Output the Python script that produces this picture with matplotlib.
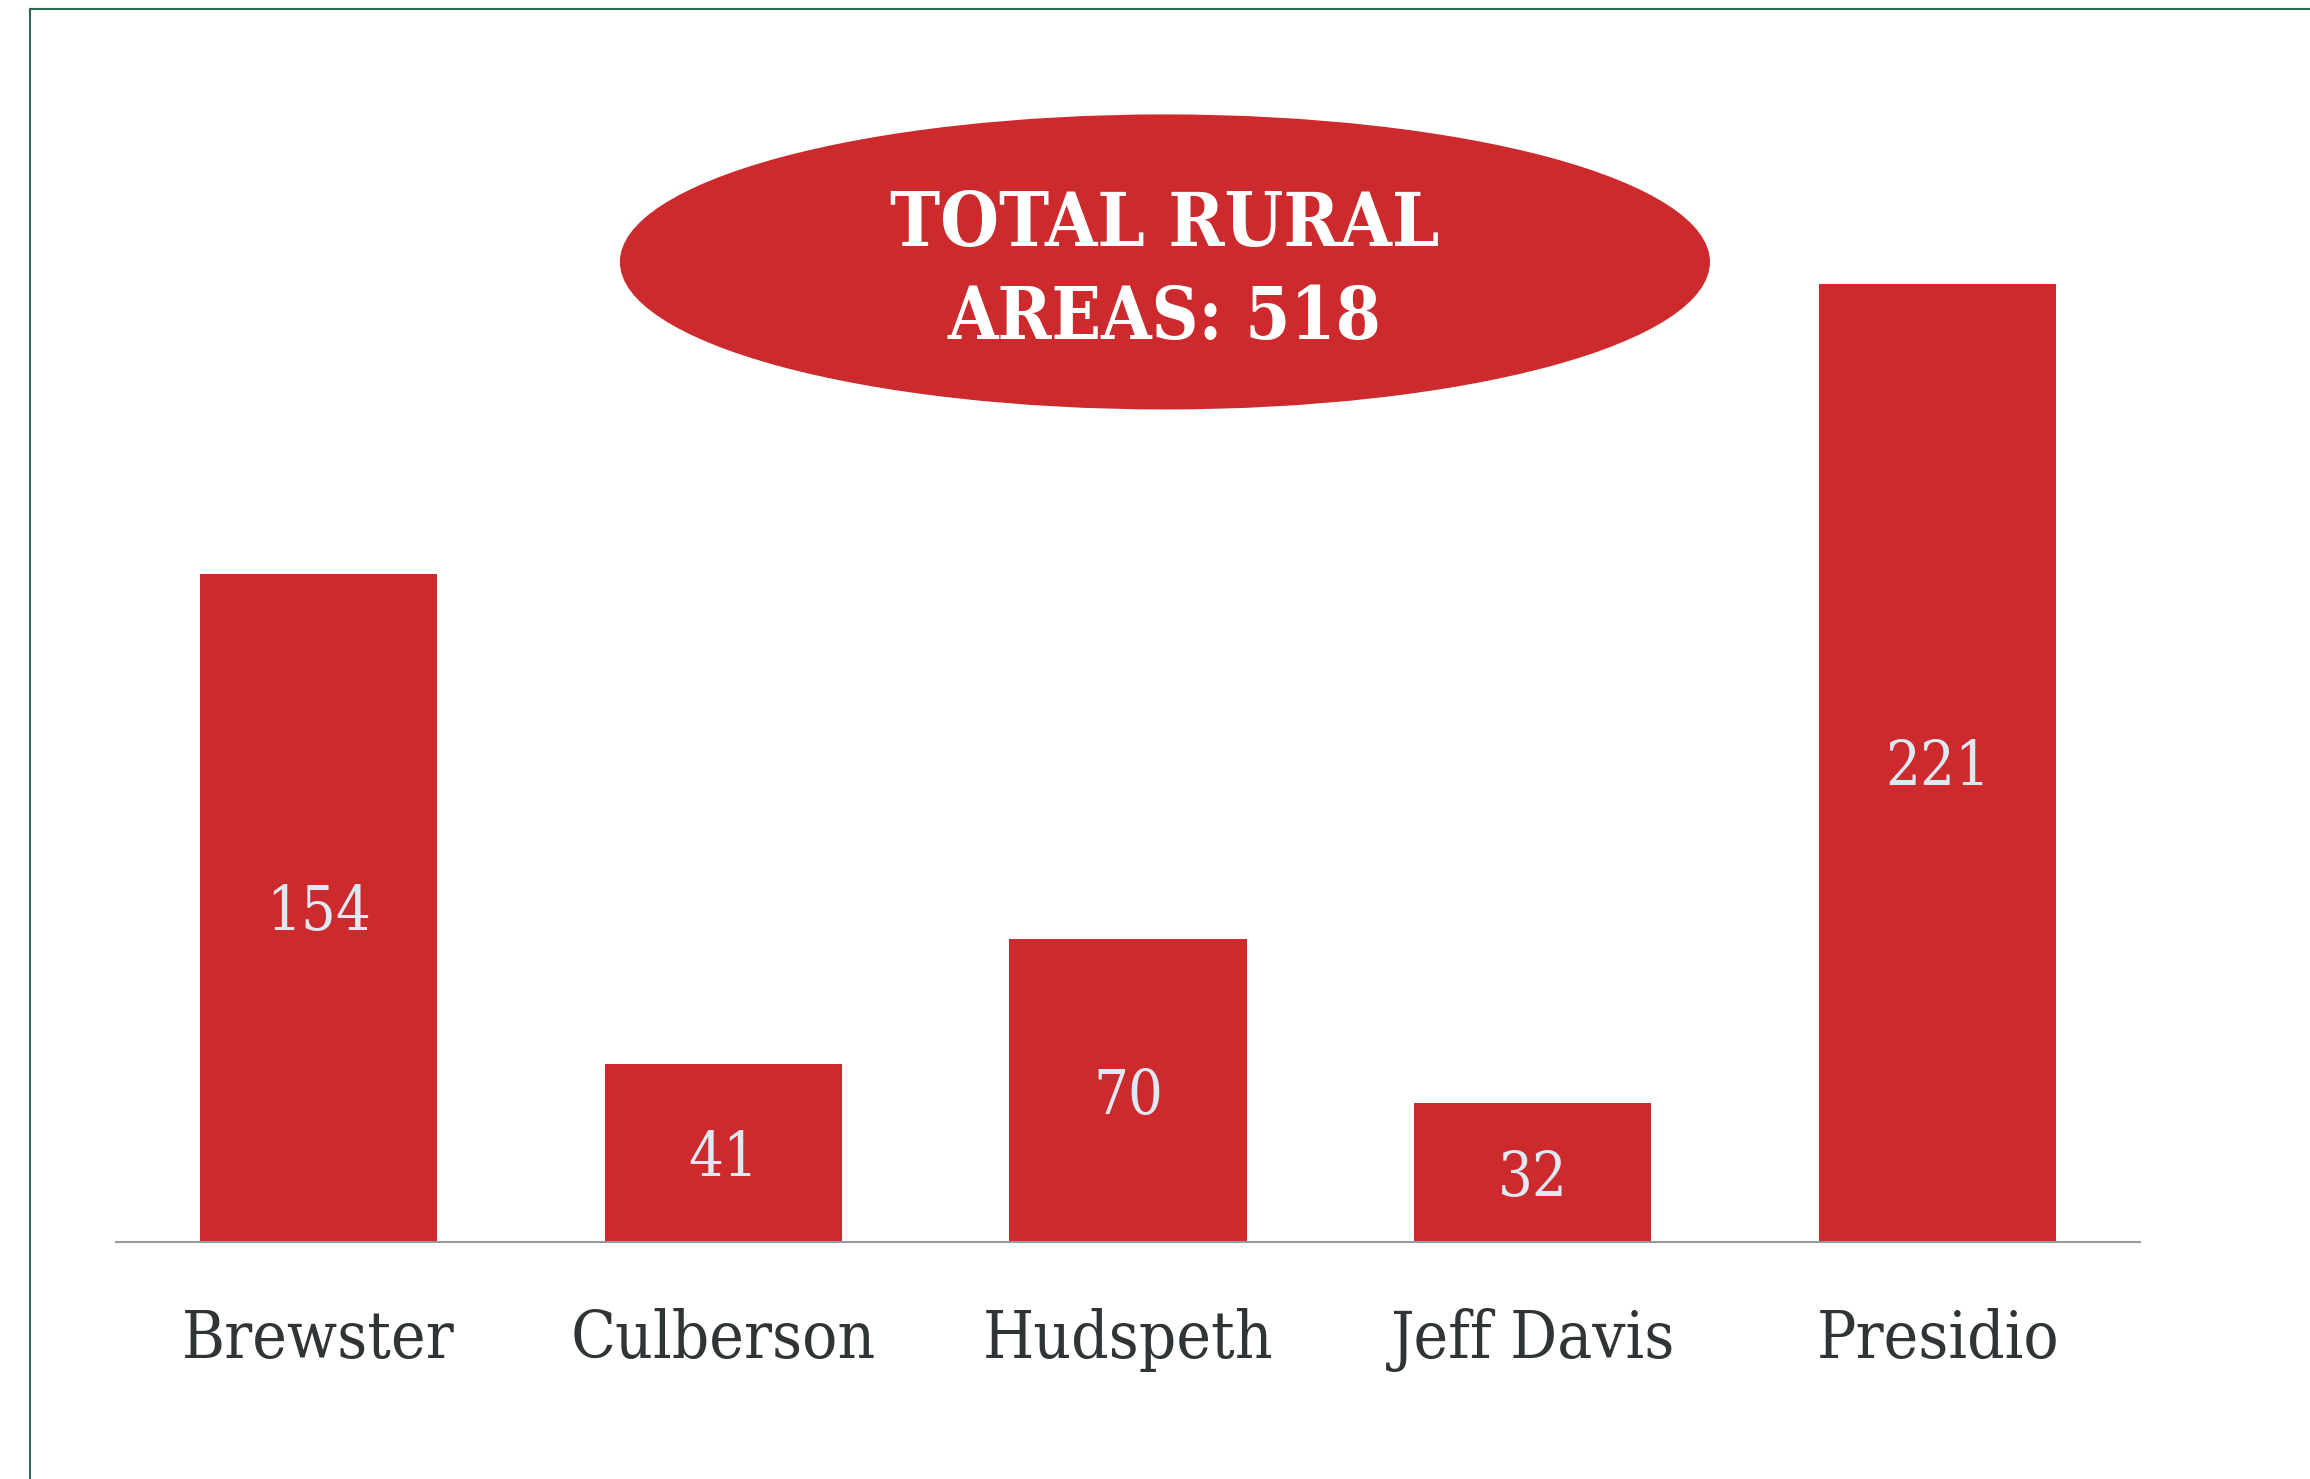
import matplotlib
matplotlib.use("Agg")
import matplotlib.pyplot as plt
from matplotlib.patches import Ellipse
from matplotlib.lines import Line2D
from matplotlib.transforms import blended_transform_factory

# county counts of rural areas
counties = ["Brewster", "Culberson", "Hudspeth", "Jeff Davis", "Presidio"]
rural_areas = [154, 41, 70, 32, 221]

red = "#cc2a2c"
font = dict(family="DejaVu Serif", stretch="condensed")

fig = plt.figure(figsize=(23.1, 14.79), dpi=100, facecolor="white")
ax = fig.add_axes([0.0502, 0.1602, 0.8762, 0.8398])

x = list(range(len(counties)))
ax.bar(x, rural_areas, width=0.586, color=red, zorder=2)
ax.set_xlim(-0.5, len(counties) - 0.5)
ax.set_ylim(0, 286.5)

for s in ["top", "right", "left"]:
    ax.spines[s].set_visible(False)
ax.spines["bottom"].set_color("#9a9a9a")
ax.spines["bottom"].set_linewidth(1.5)
ax.set_xticks([])
ax.set_yticks([])

# value labels in the middle of each bar
for xi, v in zip(x, rural_areas):
    ax.annotate(str(v), (xi, v / 2), xytext=(0, -16), textcoords="offset points",
                ha="center", va="baseline", color="#dfe9f3", fontsize=44, **font)

# county names under the axis
trans = blended_transform_factory(ax.transData, fig.transFigure)
for xi, name in zip(x, counties):
    ax.text(xi, 0.0818, name, transform=trans, ha="center", va="baseline",
            color="#2f3437", fontsize=47, **font)

# red ellipse with total
fig.patches.append(Ellipse((0.5043, 0.8229), 0.4719, 0.1995, transform=fig.transFigure,
                           facecolor=red, edgecolor="none", zorder=3))
total = sum(rural_areas)
fig.text(0.5043, 0.8337, "TOTAL RURAL", ha="center", va="baseline", color="white",
         fontsize=54, fontweight="bold", zorder=4, **font)
fig.text(0.5043, 0.7708, f"AREAS: {total}", ha="center", va="baseline", color="white",
         fontsize=52, fontweight="bold", zorder=4, **font)

# green frame on left and top
green = "#2e6b4f"
fig.lines.append(Line2D([0.013, 0.013], [0, 0.9939], transform=fig.transFigure, color=green, lw=1.5))
fig.lines.append(Line2D([0.013, 1], [0.9939, 0.9939], transform=fig.transFigure, color=green, lw=1.5))

fig.savefig("out.png", dpi=100, facecolor="white")
